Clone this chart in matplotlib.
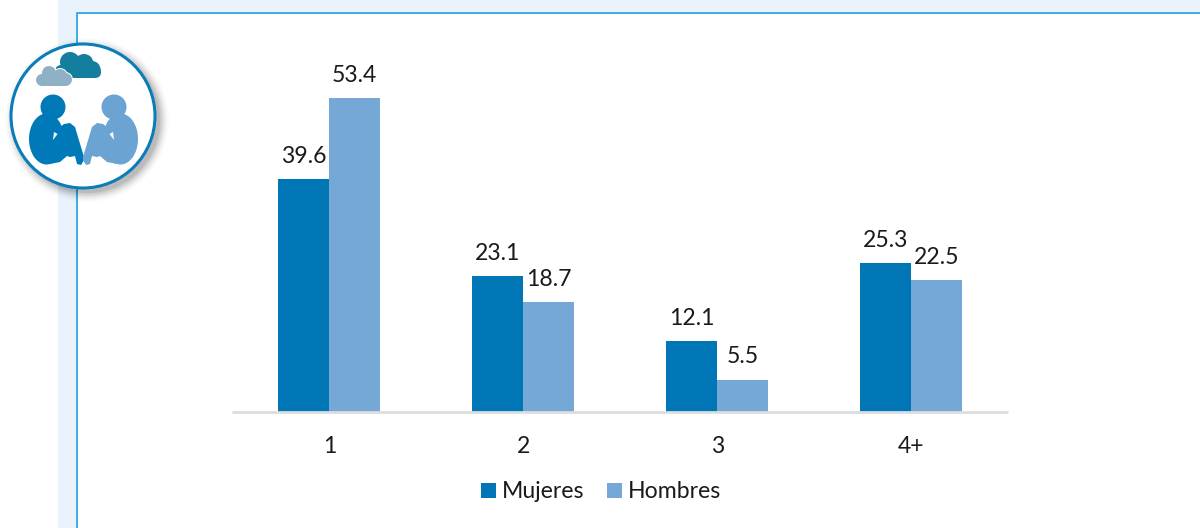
import matplotlib
matplotlib.use('Agg')
import matplotlib.pyplot as plt
from matplotlib.patches import Circle, Ellipse, Polygon, Rectangle, FancyBboxPatch

plt.rcParams['font.family'] = ['Lato', 'DejaVu Sans']

categories = ['1', '2', '3', '4+']
mujeres = [39.6, 23.1, 12.1, 25.3]
hombres = [53.4, 18.7, 5.5, 22.5]

dark_blue = '#0076B6'
light_blue = '#75A7D7'
text_color = '#1a1a1a'
font_size = 16.6

W, H = 1200, 528
fig = plt.figure(figsize=(W / 100, H / 100), dpi=100, facecolor='white')

# page decoration, drawn in pixel coordinates
bg = fig.add_axes([0, 0, 1, 1], zorder=0)
bg.set_xlim(0, W)
bg.set_ylim(H, 0)
bg.axis('off')
bg.add_patch(Rectangle((58, 0), W - 58, 12, color='#EAF3FB', lw=0))
bg.add_patch(Rectangle((58, 0), 18, H, color='#EAF3FB', lw=0))
bg.plot([76.5, 76.5, W], [H, 12.5, 12.5], color='#29A9E0', lw=1.3, solid_joinstyle='miter')

# bars
ax = fig.add_axes([232.3 / W, (H - 412) / H, 776 / W, 352 / H], zorder=1)
ax.patch.set_alpha(0)
bar_width = 0.2625
x = range(len(categories))
x1 = [i - bar_width / 2 for i in x]
x2 = [i + bar_width / 2 for i in x]
b1 = ax.bar(x1, mujeres, width=bar_width, color=dark_blue, label='Mujeres')
b2 = ax.bar(x2, hombres, width=bar_width, color=light_blue, label='Hombres')
ax.bar_label(b1, fmt='%.1f', padding=8.8, fontsize=font_size, color=text_color)
ax.bar_label(b2, fmt='%.1f', padding=8.8, fontsize=font_size, color=text_color)

ax.set_xlim(-0.5, 3.5)
ax.set_ylim(0, 59.9)
ax.set_xticks(list(x))
ax.set_xticklabels(categories, fontsize=font_size, color=text_color)
ax.tick_params(axis='x', length=0, pad=17)
ax.set_yticks([])
for s in ['top', 'left', 'right']:
    ax.spines[s].set_visible(False)
ax.spines['bottom'].set_color('#DDDDDD')
ax.spines['bottom'].set_linewidth(2)
ax.spines['bottom'].set_capstyle('butt')

fig.legend(loc='center', bbox_to_anchor=(601 / W, 1 - 492 / H), ncol=2, frameon=False,
           fontsize=font_size, labelcolor=text_color, handlelength=0.65, handleheight=0.65,
           handletextpad=0.28, columnspacing=0.95)

# round icon on top
ic = fig.add_axes([0, 0, 1, 1], zorder=2)
ic.set_xlim(0, W)
ic.set_ylim(H, 0)
ic.axis('off')
for r, a in [(82, 0.015), (80.5, 0.02), (79, 0.03), (77.5, 0.04), (76, 0.05), (74.5, 0.06), (73, 0.08)]:
    ic.add_patch(Circle((87, 120), r, color='black', alpha=a, lw=0))
ic.add_patch(Circle((83, 116), 72, facecolor='white', edgecolor='#0A7DB9', lw=2.2))

# clouds
teal = '#137E9E'
grey_blue = '#8FB1C6'
ic.add_patch(FancyBboxPatch((56, 66), 45, 12, boxstyle='round,pad=0,rounding_size=6', color=teal, lw=0))
for cx, cy, r in [(70, 62, 10), (84, 63.5, 9.5), (92, 69.5, 8.5), (61, 71, 6)]:
    ic.add_patch(Circle((cx, cy), r, color=teal, lw=0))

gray_parts = [(49, 73, 7), (60, 76, 7), (65.5, 79.5, 6.5), (42, 80, 6)]
for cx, cy, r in gray_parts:
    ic.add_patch(Circle((cx, cy), r + 1, color='white', lw=0))
ic.add_patch(Rectangle((41, 77), 26, 9.5, color='white', lw=0))
for cx, cy, r in gray_parts:
    ic.add_patch(Circle((cx, cy), r, color=grey_blue, lw=0))
ic.add_patch(Rectangle((42, 76), 24, 10, color=grey_blue, lw=0))

# outline of one seated figure, as left figure x positions
leg_x = [50, 60, 64, 70, 75, 84, 84, 81, 77, 75, 70, 67, 60, 50]
leg_y = [120, 127, 124, 123, 127, 157, 160, 165, 164, 156, 157, 156, 162, 164]


def person(sign, color):
    # sign = -1 left figure, +1 right figure, mirrored around x=83.5
    def fx(v):
        return 83.5 + sign * (83.5 - v)
    ic.add_patch(Circle((fx(53), 107), 12.5, color=color, lw=0))
    ic.add_patch(Ellipse((fx(46.5), 139), 35, 51, color=color, lw=0))
    ic.add_patch(Polygon([(fx(a), b) for a, b in zip(leg_x, leg_y)], closed=True, color=color, lw=0))
    # white notch between arm and body
    ic.add_patch(Polygon([(fx(54), 132), (fx(57.5), 134), (fx(53), 140)], closed=True, color='white', lw=0))


person(-1, '#0079B8')
person(1, '#6BA3D3')

fig.savefig('out.png', dpi=100)
